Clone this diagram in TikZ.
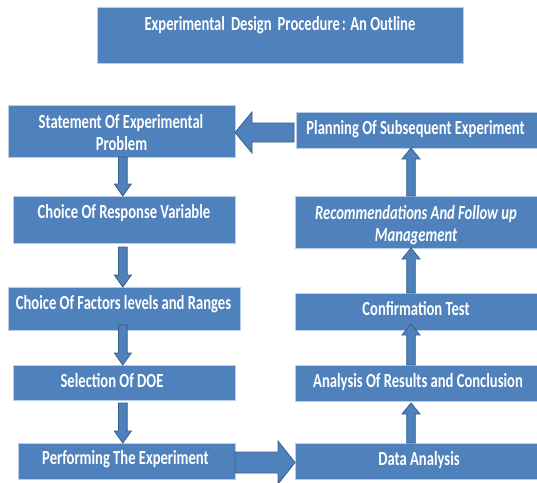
\documentclass[tikz,border=0pt]{standalone}
\usepackage{fontspec}
\newfontfamily\boxfont{Carlito}[FakeStretch=0.73]
\usetikzlibrary{calc}
\definecolor{boxblue}{HTML}{4F81BD}
\definecolor{arrowedge}{HTML}{385D8A}
\definecolor{boxedge}{HTML}{B9CDE5}
\tikzset{
  box/.style={rectangle, fill=boxblue, draw=boxedge, line width=0.6pt, inner sep=0pt, outer sep=0pt, anchor=north west},
  txt/.style={text=white, font=\boxfont\bfseries\fontsize{20}{21.5}\selectfont, inner sep=0pt, text height=12.9pt, text depth=0pt, anchor=center},
  blockarrow/.style={fill=boxblue, draw=arrowedge, line width=0.8pt, line join=miter}
}
% vertical block arrow: tail, tip, shaft half, head half, head length, dir (+1 down, -1 up)
\newcommand\vblock[6]{%
  \draw[blockarrow] let \p1=(#1), \p2=(#2) in
   ({\x2-#3pt},{\y1}) -- ({\x2-#3pt},{\y2+(#6)*#5pt}) -- ({\x2-#4pt},{\y2+(#6)*#5pt}) -- (\x2,\y2)
   -- ({\x2+#4pt},{\y2+(#6)*#5pt}) -- ({\x2+#3pt},{\y2+(#6)*#5pt}) -- ({\x2+#3pt},{\y1}) -- cycle;}
% horizontal block arrow: tail, tip, shaft half, head half, head length, dir (+1 right, -1 left)
\newcommand\hblock[6]{%
  \draw[blockarrow] let \p1=(#1), \p2=(#2) in
   ({\x1},{\y2-#3pt}) -- ({\x2-(#6)*#5pt},{\y2-#3pt}) -- ({\x2-(#6)*#5pt},{\y2-#4pt}) -- (\x2,\y2)
   -- ({\x2-(#6)*#5pt},{\y2+#4pt}) -- ({\x2-(#6)*#5pt},{\y2+#3pt}) -- ({\x1},{\y2+#3pt}) -- cycle;}
\begin{document}
\begin{tikzpicture}[x=1pt,y=-1pt]
\useasboundingbox (0,0) rectangle (537,482);
% boxes
\node[box, minimum width=365.5pt, minimum height=56pt] (title) at (97.5,7) {};
\node[box, minimum width=227pt, minimum height=52pt] (stmt) at (8,105) {};
\node[box, minimum width=241pt, minimum height=36pt] (plan) at (296,112) {};
\node[box, minimum width=222pt, minimum height=47pt] (resp) at (13,196) {};
\node[box, minimum width=232pt, minimum height=43pt] (fact) at (8,287) {};
\node[box, minimum width=222pt, minimum height=35pt] (sel) at (13,365) {};
\node[box, minimum width=217pt, minimum height=36pt] (perf) at (18,443) {};
\node[box, minimum width=242pt, minimum height=52pt] (recs) at (295,196) {};
\node[box, minimum width=242pt, minimum height=37pt] (conf) at (295,293) {};
\node[box, minimum width=242pt, minimum height=36pt] (anal) at (295,365) {};
\node[box, minimum width=242pt, minimum height=36pt] (data) at (295,443) {};
% texts
\node[txt] (title-t) at (280,23.7) {Experimental\hspace{0.3em}Design\hspace{0.3em}Procedure\hspace{0.1em}: An Outline};
\node[txt] (stmt-t1) at (121,122) {Statement Of Experimental};
\node[txt] (stmt-t2) at (121.5,143.7) {Problem};
\node[txt] (plan-t) at (415.5,128.5) {Planning Of Subsequent Experiment};
\node[txt] (resp-t) at (124,212) {Choice Of Response Variable};
\node[txt] (fact-t) at (123.5,303.3) {Choice Of Factors levels and Ranges};
\node[txt] (sel-t) at (112,381.3) {Selection Of DOE};
\node[txt] (perf-t) at (125.5,458.3) {Performing The Experiment};
\node[txt, font=\boxfont\bfseries\itshape\fontsize{20}{21.5}\selectfont] (recs-t1) at (416,213) {Recommendations And Follow up};
\node[txt, font=\boxfont\bfseries\itshape\fontsize{20}{21.5}\selectfont] (recs-t2) at (416,235) {Management};
\node[txt] (conf-t) at (416,309.3) {Confirmation Test};
\node[txt] (anal-t) at (418,381.3) {Analysis Of Results and Conclusion};
\node[txt] (data-t) at (419,458.8) {Data Analysis};
% column / row references
\coordinate (lcol) at (122.8,0);
\coordinate (rcol) at (411,0);
\coordinate (trow) at (0,132.5);
\coordinate (brow) at (0,462.5);
% left column arrows (down)
\vblock{lcol |- stmt.south}{lcol |- resp.north}{4.3}{8.5}{12}{1}
\vblock{$(lcol |- resp.south)+(0,4)$}{lcol |- fact.north}{4.3}{8.5}{12}{1}
\vblock{$(lcol |- fact.south)+(0,-5)$}{lcol |- sel.north}{4.3}{8.5}{12}{1}
\vblock{$(lcol |- sel.south)+(0,3)$}{lcol |- perf.north}{4.3}{8.5}{12}{1}
% right column arrows (up)
\vblock{rcol |- data.north}{$(rcol |- anal.south)+(0,2)$}{4.3}{9}{11}{-1}
\vblock{rcol |- anal.north}{$(rcol |- conf.south)+(0,-6)$}{4.3}{9}{11}{-1}
\vblock{rcol |- conf.north}{rcol |- recs.south}{4.3}{9}{11}{-1}
\vblock{rcol |- recs.north}{rcol |- plan.south}{4.3}{9}{11}{-1}
% big horizontal arrows
\hblock{$(plan.west |- trow)+(-2,0)$}{stmt.east |- trow}{9.5}{20.5}{17}{-1}
\hblock{perf.east |- brow}{data.west |- brow}{10.5}{21.5}{17}{1}
\end{tikzpicture}
\end{document}
